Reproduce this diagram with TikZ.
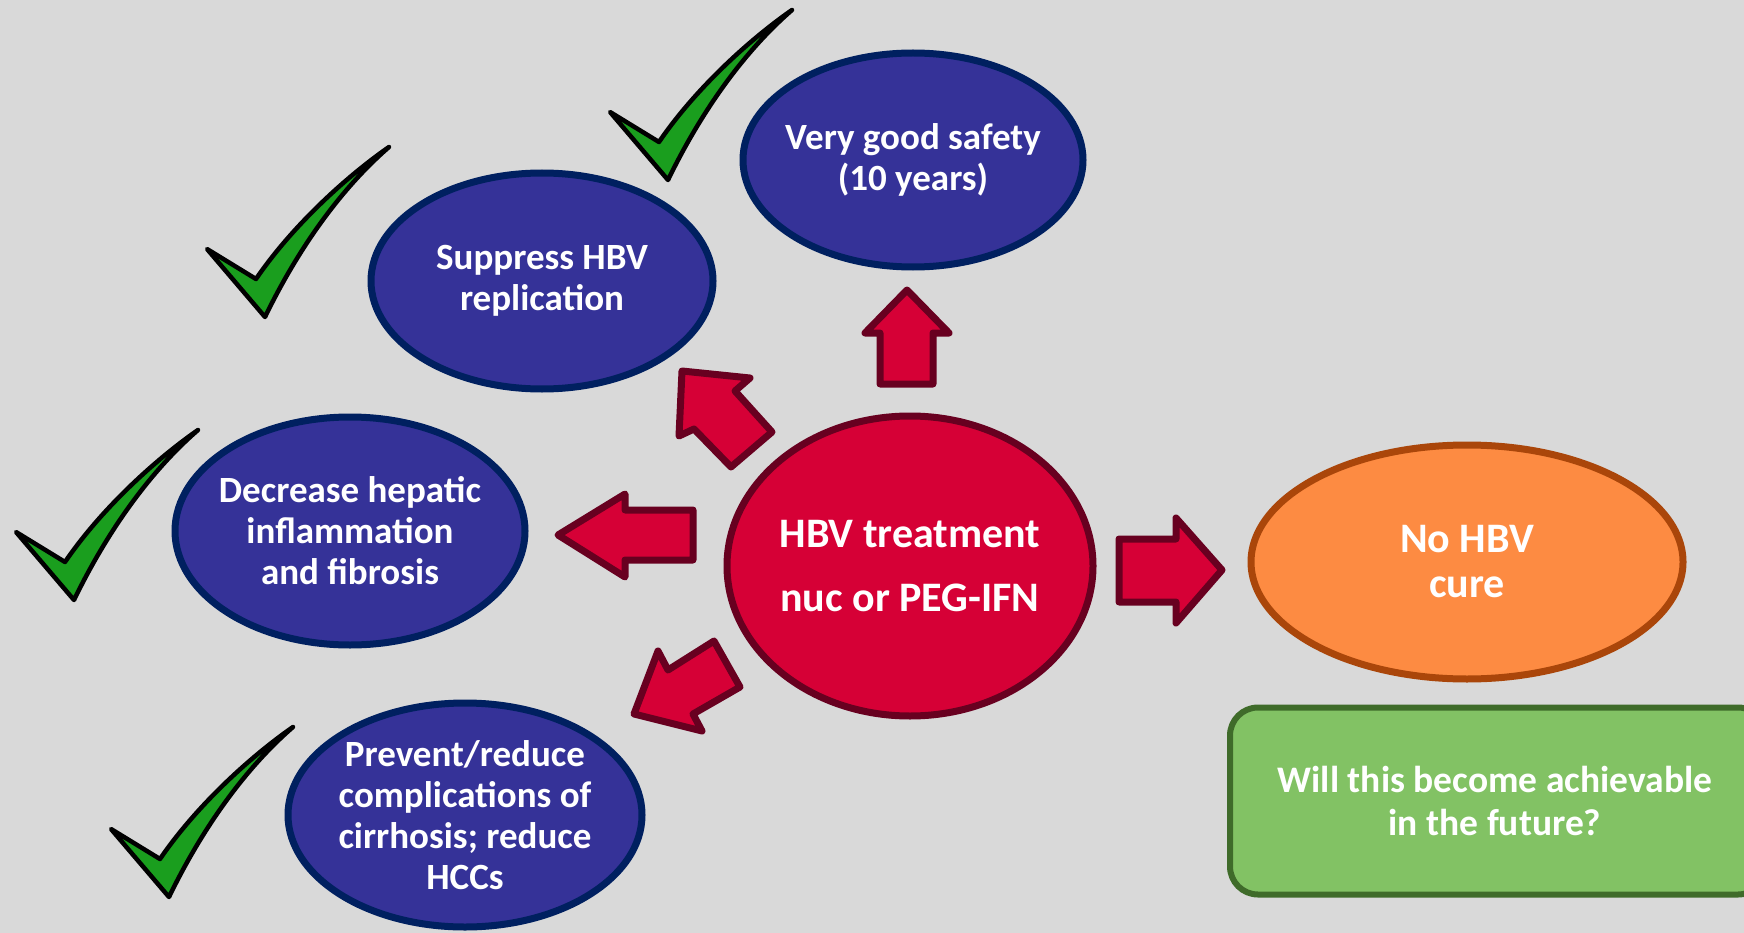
\documentclass[tikz,border=0pt]{standalone}
\usepackage{fontspec}
\setmainfont{Carlito}
\usetikzlibrary{shapes.geometric}
\definecolor{bgc}{RGB}{217,217,217}
\definecolor{bluefill}{RGB}{53,50,152}
\definecolor{blueline}{RGB}{0,32,96}
\definecolor{redfill}{RGB}{214,0,54}
\definecolor{redline}{RGB}{104,0,32}
\definecolor{orangefill}{RGB}{253,139,66}
\definecolor{orangeline}{RGB}{170,70,10}
\definecolor{greenfill}{RGB}{130,194,100}
\definecolor{greenline}{RGB}{63,107,42}
\definecolor{checkfill}{RGB}{26,158,30}
\tikzset{
  ell/.style={ellipse, inner sep=0pt, line width=7pt},
  blueell/.style={ell, fill=bluefill, draw=blueline},
  txt/.style={text=white, align=center, inner sep=0pt, font=\fontsize{37}{41}\selectfont\bfseries},
  bigtxt/.style={txt, font=\fontsize{42}{64}\selectfont\bfseries},
  blockarrow/.style={fill=redfill, draw=redline, line width=7pt, line join=round},
  checkstyle/.style={fill=checkfill, draw=black, line width=4.5pt, line join=round},
  greencheck/.pic={\draw[checkstyle] (-58,-68) -- (0,0) .. controls (30,-62) and (72,-125) .. (124,-170) .. controls (78,-138) and (25,-88) .. (-9,-38) -- cycle;}
}
\begin{document}
\begin{tikzpicture}[x=1pt,y=-1pt]
\useasboundingbox (0,0) rectangle (1744,933);
\fill[bgc] (0,0) rectangle (1744,933);
\begin{scope}
\clip (0,0) rectangle (1744,933);
% ellipses
\node[blueell, minimum width=340, minimum height=214] (safety) at (913,160) {};
\node[txt] (safetyT) at (safety) {Very good safety\\(10 years)};
\node[blueell, minimum width=342, minimum height=216] (suppress) at (542,281) {};
\node[txt] (suppressT) at (suppress) {Suppress HBV\\replication};
\node[blueell, minimum width=350, minimum height=228] (decrease) at (350,531) {};
\node[txt] (decreaseT) at (decrease) {Decrease hepatic\\inflammation\\and fibrosis};
\node[blueell, minimum width=354, minimum height=224] (prevent) at (465,815) {};
\node[txt] (preventT) at (prevent) {Prevent/reduce\\complications of\\cirrhosis; reduce\\HCCs};
\node[ell, fill=redfill, draw=redline, minimum width=366, minimum height=300] (treat) at (910,566) {};
\node[bigtxt] (treatT) at (treat) {HBV treatment\\nuc or PEG-IFN};
\node[ell, fill=orangefill, draw=orangeline, minimum width=432, minimum height=234] (nocure) at (1467,562) {};
\node[txt, font=\fontsize{42}{45}\selectfont\bfseries] (nocureT) at (nocure) {No HBV\\cure};
\node[rectangle, rounded corners=28, fill=greenfill, draw=greenline, line width=6pt,
  minimum width=536, minimum height=187] (future) at (1498,801) {};
\node[txt, font=\fontsize{37.5}{43}\selectfont\bfseries] (futureT) at (1495,801) {Will this become achievable\\in the future?};
\end{scope}
% block arrows
\draw[blockarrow] (880,384) -- (880,333) -- (865,333) -- (907,290) -- (949,333) -- (933,333) -- (933,384) -- cycle;
\draw[blockarrow] (1119,539) -- (1176,539) -- (1176,518) -- (1222,570) -- (1176,623) -- (1176,602) -- (1119,602) -- cycle;
\draw[blockarrow] (693,510) -- (625,510) -- (625,494) -- (558,535) -- (625,577) -- (625,560) -- (693,560) -- cycle;
\draw[blockarrow] (682,371) -- (750,378) -- (735,391) -- (772,432) -- (731,467) -- (694,429) -- (679,436) -- cycle;
\draw[blockarrow] (634,714) -- (658,651) -- (668,670) -- (714,641) -- (740,687) -- (693,714) -- (702,731) -- cycle;
% check marks
\pic at (668,180) {greencheck};
\pic at (265,317) {greencheck};
\pic at (74,600) {greencheck};
\pic at (169,897) {greencheck};
\end{tikzpicture}
\end{document}
